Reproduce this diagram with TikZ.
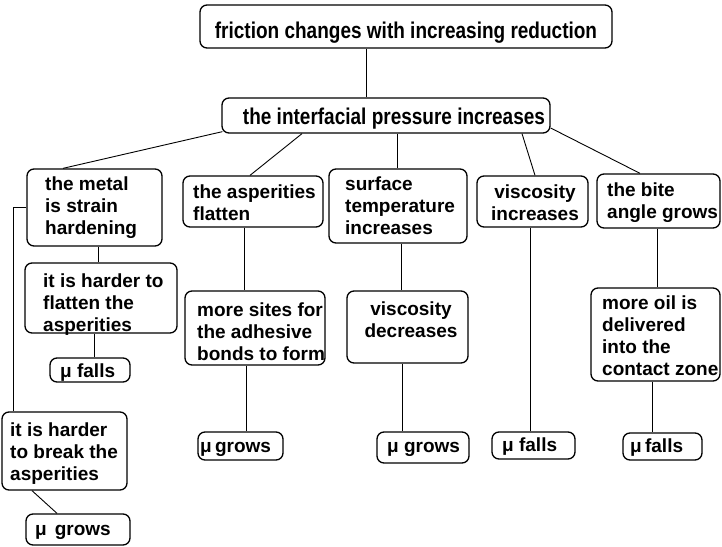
\documentclass[tikz,border=0pt]{standalone}
\usepackage{fontspec}
\setmainfont{Liberation Sans}
\newcommand\DiagBox[5]{\node[box,minimum width={(#4)-(#2)},minimum height={(#5)-(#3)}] (#1) at ({((#2)+(#4))/2},{((#3)+(#5))/2}) {};}
\begin{document}
\begin{tikzpicture}[x=1pt,y=-1pt,
  box/.style={draw,line width=1.3pt,rounded corners=7pt,inner sep=0pt},
  txt/.style={inner sep=0pt,font=\fontsize{19}{22}\selectfont\bfseries,align=left,anchor=base west},
  ctxt/.style={txt,align=center,anchor=base},
  link/.style={line width=0.9pt}]
\useasboundingbox (0,0) rectangle (722,546);
% boxes
\DiagBox{top}{200}{5}{612}{48}
\DiagBox{press}{222}{98}{550}{133}
\DiagBox{metal}{27}{169}{162}{246}
\DiagBox{asp}{183}{176}{323}{227}
\DiagBox{surf}{329}{169}{467}{243}
\DiagBox{visc}{477}{176}{588}{227}
\DiagBox{bite}{597}{174}{720}{228}
\DiagBox{flat}{25}{263}{177}{333}
\DiagBox{sites}{185}{291}{325}{365}
\DiagBox{vdec}{347}{291}{468}{363}
\DiagBox{oil}{591}{288}{720}{381}
\DiagBox{mfL}{50}{358}{130}{382}
\DiagBox{brk}{2}{412}{127}{490}
\DiagBox{mgBL}{26}{514}{130}{545}
\DiagBox{mgM}{198}{432}{283}{460}
\DiagBox{mgS}{377}{432}{469}{463}
\DiagBox{mfV}{492}{432}{575}{459}
\DiagBox{mfR}{623}{433}{702}{460}
% texts (anchored at the baseline of the last line)
\node[ctxt] (topt) at (406,38) {\scalebox{1}[1.2]{friction changes with increasing reduction}};
\node[ctxt] (presst) at (394,124) {\scalebox{1}[1.2]{the interfacial pressure increases}};
\node[txt] (metalt) at (45,234) {the metal\\is strain\\hardening};
\node[txt] (aspt) at (193,220) {the asperities\\flatten};
\node[txt] (surft) at (345,234) {surface\\temperature\\increases};
\node[ctxt] (visct) at (535,220) {viscosity\\increases};
\node[txt] (bitet) at (607,218) {the bite\\angle grows};
\node[txt] (flatt) at (43,331) {it is harder to\\flatten the\\asperities};
\node[txt] (sitest) at (197,360) {more sites for\\the adhesive\\bonds to form};
\node[ctxt] (vdect) at (411,337) {viscosity\\decreases};
\node[txt] (oilt) at (602,375) {more oil is\\delivered\\into the\\contact zone};
\node[txt] (mfLt) at (60,377) {μ falls};
\node[txt] (brkt) at (10,480) {it is harder\\to break the\\asperities};
\node[txt] (mgBLt) at (35,535) {μ\hspace{8pt}grows};
\node[txt] (mgMt) at (200,452) {μ\hspace{-2pt} grows};
\node[txt] (mgSt) at (387,452) {μ grows};
\node[txt] (mfVt) at (502,451) {μ falls};
\node[txt] (mfRt) at (630,452) {μ\hspace{-2pt} falls};
% connectors
\draw[link] ([xshift=-40pt]top.south) -- ([xshift=-20pt]press.north);
\draw[link] ([shift={(1,-2)}]press.south west) -- ([xshift=-31.5pt]metal.north);
\draw[link] ([xshift=-84pt]press.south) -- ([xshift=-3pt]asp.north);
\draw[link] ([xshift=11pt]press.south) -- ([xshift=-1pt]surf.north);
\draw[link] ([xshift=136pt]press.south) -- ([xshift=2.5pt]visc.north);
\draw[link] ([yshift=-12.5pt]press.east) -- ([xshift=-18.5pt]bite.north);
\draw[link] ([xshift=3.5pt]metal.south) -- ([xshift=-3pt]flat.north);
\draw[link] ([xshift=-7pt]flat.south) -- ([xshift=4pt]mfL.north);
\draw[link] (metal.west) -| ([xshift=-51.5pt]brk.north);
\draw[link] ([xshift=-32.5pt]brk.south) -- ([xshift=-21pt]mgBL.north);
\draw[link] ([xshift=-9pt]asp.south) -- ([xshift=-11pt]sites.north);
\draw[link] ([xshift=-9pt]sites.south) -- ([xshift=5.5pt]mgM.north);
\draw[link] ([xshift=3pt]surf.south) -- ([xshift=-6.5pt]vdec.north);
\draw[link] ([xshift=-5.5pt]vdec.south) -- ([xshift=-21pt]mgS.north);
\draw[link] ([xshift=-2.5pt]visc.south) -- ([xshift=-3.5pt]mfV.north);
\draw[link] ([xshift=-1.5pt]bite.south) -- ([xshift=1.5pt]oil.north);
\draw[link] ([xshift=-3.5pt]oil.south) -- ([xshift=-10.5pt]mfR.north);
\end{tikzpicture}
\end{document}
